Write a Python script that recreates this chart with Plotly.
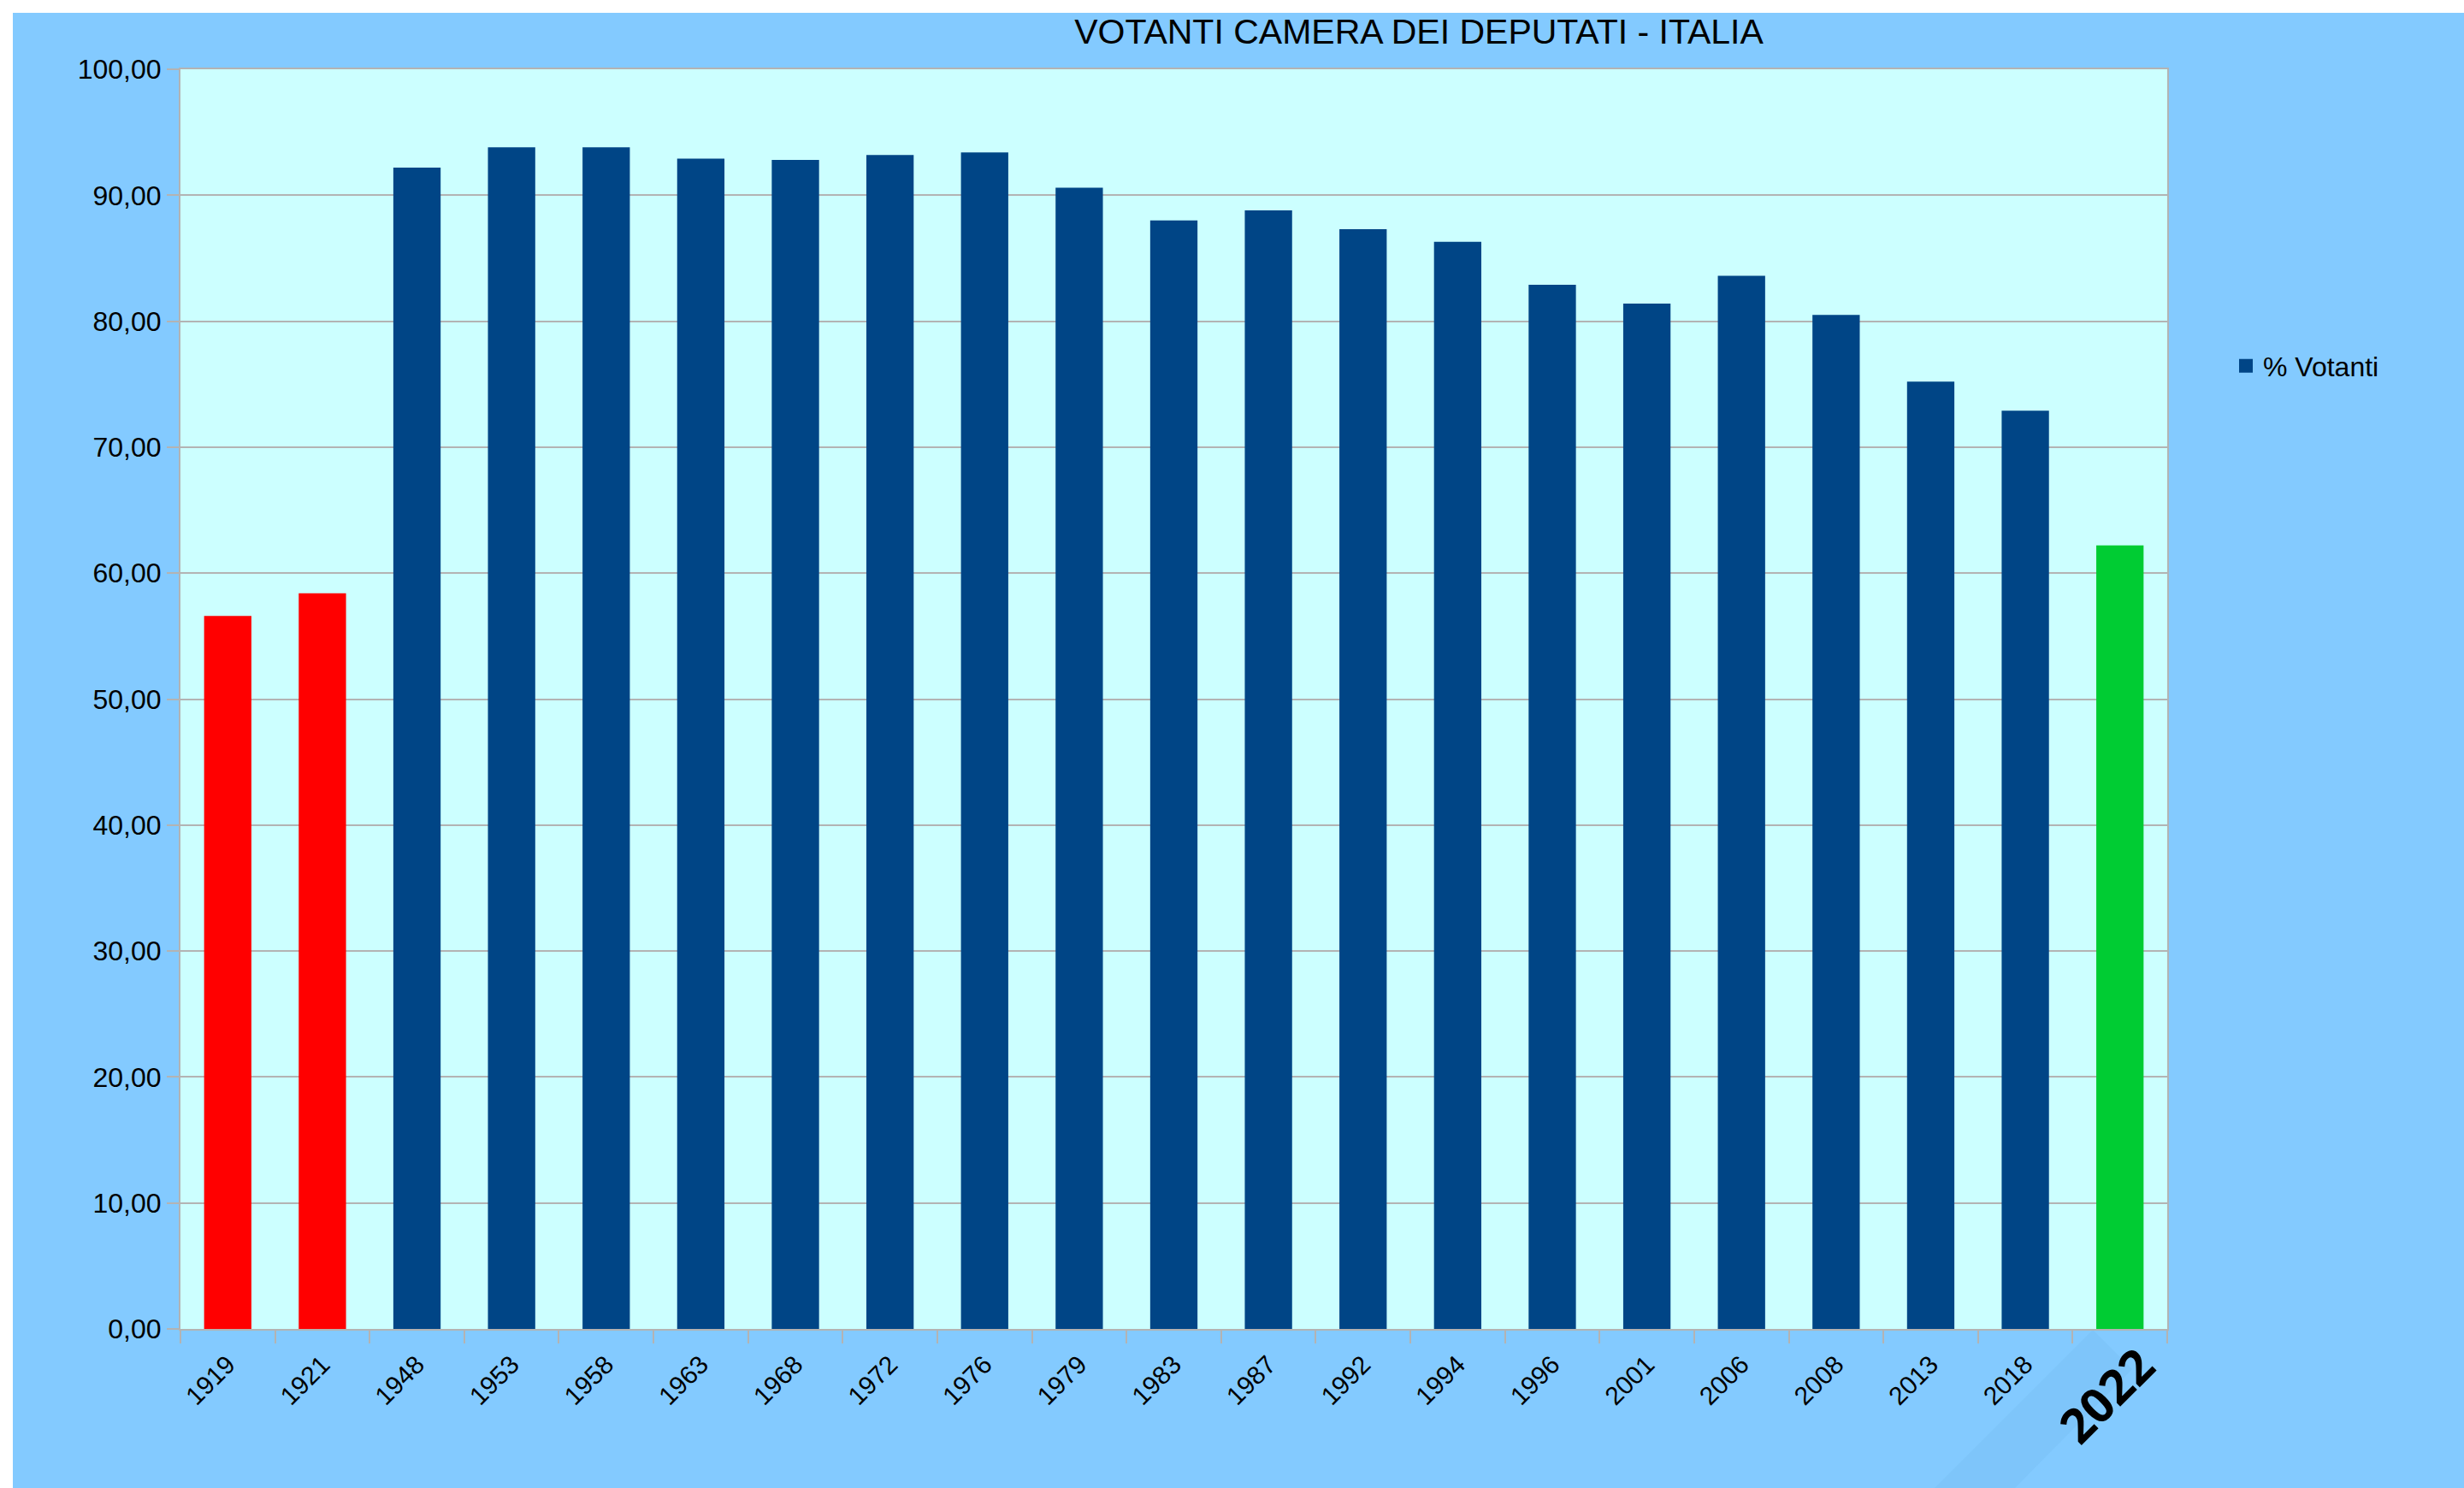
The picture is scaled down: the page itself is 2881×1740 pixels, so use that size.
import plotly.graph_objects as go

# ---------------- data ----------------
years = ["1919", "1921", "1948", "1953", "1958", "1963", "1968", "1972", "1976",
         "1979", "1983", "1987", "1992", "1994", "1996", "2001", "2006", "2008",
         "2013", "2018", "2022"]
turnout = [56.6, 58.4, 92.2, 93.8, 93.8, 92.9, 92.8, 93.2, 93.4,
           90.6, 88.0, 88.8, 87.3, 86.3, 82.9, 81.4, 83.6, 80.5,
           75.2, 72.9, 62.2]
y_ticks = [0, 10, 20, 30, 40, 50, 60, 70, 80, 90, 100]
series_name = "% Votanti"
title_text = "VOTANTI CAMERA DEI DEPUTATI - ITALIA"

# groups (pre-republic, republic, latest)
pre_years, pre_vals = years[:2], turnout[:2]
rep_years, rep_vals = years[2:-1], turnout[2:-1]
last_years, last_vals = years[-1:], turnout[-1:]

# ---------------- layout geometry ----------------
W, H = 2881, 1740
L, R, T, B = 211, 2534, 81, 1554
PW, PH = R - L, B - T


def px_x(px):
    return (px - L) / PW


def px_y(py):
    return (B - py) / PH


BG = "#83caff"
PLOT_BG = "#ccffff"
GRID = "#b3b3b3"
BLUE = "#004586"
FONT = "Liberation Sans, Arial, sans-serif"

fig = go.Figure()
fig.add_trace(go.Bar(x=pre_years, y=pre_vals, marker_color="#ff0000",
                     marker_line_width=0, showlegend=False, name=series_name))
fig.add_trace(go.Bar(x=rep_years, y=rep_vals, marker_color=BLUE,
                     marker_line_width=0, showlegend=False, name=series_name))
fig.add_trace(go.Bar(x=last_years, y=last_vals, marker_color="#00cc33",
                     marker_line_width=0, showlegend=False, name=series_name))
# legend entry for the series (square key)
fig.add_trace(go.Scatter(x=[None], y=[None], mode="markers", name=series_name,
                         marker=dict(symbol="square", size=20, color=BLUE),
                         showlegend=True, hoverinfo="skip"))

n = len(years)
tick_idx = list(range(n))
ticktext = years[:-1] + [""]

fig.update_layout(
    width=W, height=H,
    margin=dict(l=L, r=W - R, t=T, b=H - B, pad=0),
    paper_bgcolor=BG, plot_bgcolor=PLOT_BG,
    barmode="overlay", bargap=0.5,
    separators=",.",
    font=dict(family=FONT, color="#000000"),
    title=dict(text=title_text, x=px_x(1659), xref="paper", xanchor="center",
               y=1 - 37 / H, yref="container", yanchor="middle",
               font=dict(family=FONT, size=41, color="#000000")),
    legend=dict(x=px_x(2606), xanchor="left", y=px_y(428), yanchor="middle",
                bgcolor="rgba(0,0,0,0)", borderwidth=0,
                font=dict(family=FONT, size=32, color="#000000")),
    xaxis=dict(type="category", categoryorder="array", categoryarray=years,
               range=[-0.5, n - 0.5],
               tickmode="array", tickvals=tick_idx, ticktext=ticktext,
               tickson="boundaries", ticks="outside", ticklen=15, tickwidth=2,
               tickcolor=GRID, tickangle=-45, ticklabelstandoff=10,
               tickfont=dict(family=FONT, size=30, color="#000000"),
               showline=True, linecolor=GRID, linewidth=2, mirror=True,
               showgrid=False, zeroline=False),
    yaxis=dict(range=[0, 100], tickvals=y_ticks, tickformat=".2f",
               ticks="outside", ticklen=14, tickwidth=2, tickcolor=GRID,
               tickfont=dict(family=FONT, size=32, color="#000000"),
               showline=True, linecolor=GRID, linewidth=2, mirror=True,
               showgrid=True, gridcolor=GRID, gridwidth=2, zeroline=False),
)

# highlighted label for the latest election
fig.add_annotation(x=n - 1, y=0, xref="x", yref="y",
                   text="<b>" + years[-1] + "</b>", showarrow=False,
                   textangle=-45, xshift=-17, yshift=-77,
                   font=dict(family="Open Sans, DejaVu Sans, sans-serif",
                             size=56, color="#000000"))

# white page edges (left and top)
fig.add_shape(type="rect", xref="paper", yref="paper", layer="above",
              x0=px_x(0), x1=px_x(15), y0=px_y(H), y1=px_y(0),
              fillcolor="#ffffff", line_width=0)
fig.add_shape(type="rect", xref="paper", yref="paper", layer="above",
              x0=px_x(0), x1=px_x(W), y0=px_y(15), y1=px_y(0),
              fillcolor="#ffffff", line_width=0)

# faint backdrop of the pasted label
pts = [(2447, 1555), (2493, 1601), (2356, 1740), (2262, 1740)]
path = "M " + " L ".join(f"{px_x(a)},{px_y(b)}" for a, b in pts) + " Z"
fig.add_shape(type="path", xref="paper", yref="paper", layer="below",
              path=path, fillcolor="#7ec5fa", line_width=0)

fig.write_html("out.html", config={"displayModeBar": False},
               post_script="document.body.style.margin='0';document.body.style.overflow='hidden';")
